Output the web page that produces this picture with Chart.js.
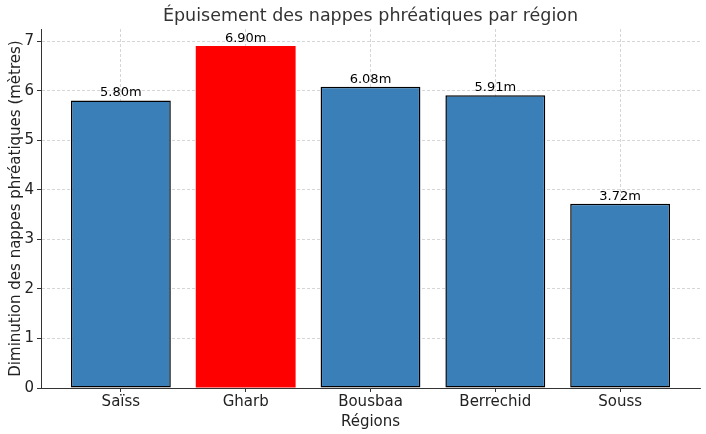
<!DOCTYPE html>
<html>
<head>
<meta charset="utf-8">
<script src="https://cdn.jsdelivr.net/npm/chart.js@4/dist/chart.umd.min.js"></script>
<style>
html,body{margin:0;padding:0;background:#fff;}
#wrap{width:706px;height:434px;}
</style>
</head>
<body>
<div id="wrap"><canvas id="c" width="706" height="434"></canvas></div>
<script>
const regions = ["Saïss", "Gharb", "Bousbaa", "Berrechid", "Souss"];
const decline = [5.80, 6.90, 6.08, 5.91, 3.72];
const yTicks = [0, 1, 2, 3, 4, 5, 6, 7];
const barColors = ["#3A7FB8", "#FF0000", "#3A7FB8", "#3A7FB8", "#3A7FB8"];
const barEdges = ["#000000", "#FF0000", "#000000", "#000000", "#000000"];
const barEdgeWidths = [1.5, 0, 1.5, 1.5, 1.5];

const FONT = "'DejaVu Sans', sans-serif";
Chart.defaults.font.family = FONT;
Chart.defaults.color = "#222";

const labelPlugin = {
  id: "valueLabels",
  afterDatasetsDraw(chart) {
    const ctx = chart.ctx;
    const meta = chart.getDatasetMeta(0);
    ctx.save();
    ctx.font = "13px " + FONT;
    ctx.fillStyle = "#000";
    ctx.textAlign = "center";
    ctx.textBaseline = "bottom";
    meta.data.forEach((bar, i) => {
      ctx.fillText(decline[i].toFixed(2) + "m", bar.x, bar.y - 1);
    });
    ctx.restore();
  }
};

const gridStyle = {
  display: true,
  color: "rgba(190,190,190,0.8)",
  lineWidth: 0.8,
  tickColor: "#333",
  tickLength: 4,
  tickWidth: 1,
  tickBorderDash: [],
  drawTicks: true,
  offset: false
};
const borderStyle = { display: true, color: "#333", width: 1, dash: [3, 2] };

new Chart(document.getElementById("c"), {
  type: "bar",
  data: {
    datasets: [{
      data: decline.map((v, i) => ({ x: i, y: v })),
      backgroundColor: barColors,
      borderColor: barEdges,
      borderWidth: barEdgeWidths,
      borderSkipped: false,
      categoryPercentage: 1.0,
      barPercentage: 0.8
    }]
  },
  options: {
    responsive: false,
    animation: false,
    devicePixelRatio: 1,
    layout: { padding: { left: 0, right: 6, top: 0, bottom: 0 } },
    plugins: {
      legend: { display: false },
      tooltip: { enabled: false },
      title: {
        display: true,
        fullSize: false,
        text: "Épuisement des nappes phréatiques par région",
        font: { size: 17.5, weight: "normal", family: FONT },
        color: "#333",
        padding: { top: 6, bottom: 2 }
      }
    },
    scales: {
      x: {
        type: "linear",
        min: -0.64,
        max: 4.64,
        offset: false,
        z: 1,
        grid: Object.assign({}, gridStyle),
        border: Object.assign({}, borderStyle),
        afterBuildTicks(scale) {
          scale.ticks = regions.map((r, i) => ({ value: i }));
        },
        afterFit(scale) { scale.height = 46; },
        ticks: {
          autoSkip: false,
          maxRotation: 0,
          padding: 1,
          font: { size: 15, family: FONT },
          color: "#222",
          callback: (v) => regions[v]
        },
        title: {
          display: true,
          text: "Régions",
          font: { size: 15, family: FONT },
          color: "#222",
          padding: { top: 0, bottom: 3 }
        }
      },
      y: {
        type: "linear",
        min: 0,
        max: 7.245,
        z: 1,
        grid: Object.assign({}, gridStyle),
        border: Object.assign({}, borderStyle),
        afterBuildTicks(scale) {
          scale.ticks = yTicks.map(v => ({ value: v }));
        },
        afterFit(scale) { scale.width = 41; },
        ticks: {
          padding: 3,
          font: { size: 15, family: FONT },
          color: "#222",
          callback: (v) => String(v)
        },
        title: {
          display: true,
          text: "Diminution des nappes phréatiques (mètres)",
          font: { size: 15, family: FONT },
          color: "#222",
          padding: { top: 7, bottom: 0 }
        }
      }
    }
  },
  plugins: [labelPlugin]
});
</script>
</body>
</html>
